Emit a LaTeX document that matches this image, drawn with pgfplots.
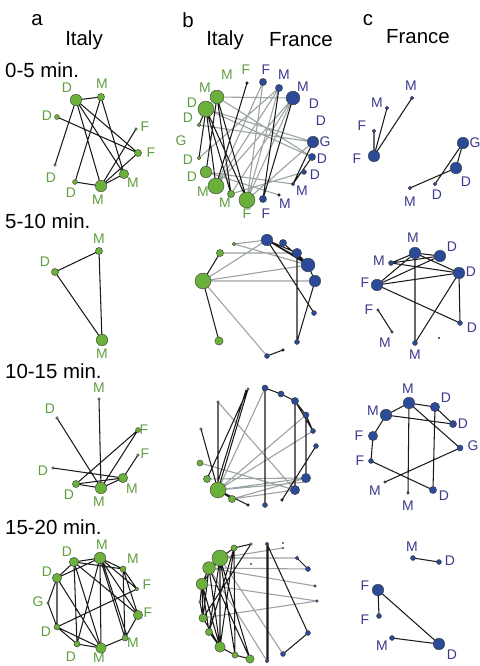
\documentclass[border=0pt]{standalone}
\usepackage{pgfplots}
\pgfplotsset{compat=1.18}
\usepackage{fontspec}
\setmainfont{Liberation Sans}
\definecolor{gfill}{HTML}{6AB03A}
\definecolor{glab}{HTML}{5E9E3E}
\definecolor{bfill}{HTML}{2B4A98}
\definecolor{blab}{HTML}{3A3A8C}
\definecolor{ndraw}{HTML}{3A3A3A}
\definecolor{gedgec}{HTML}{9CA3A3}
\definecolor{kedgec}{HTML}{1A1A1A}
\newcommand{\lab}{\fontsize{14}{14}\selectfont}
\newcommand{\hd}{\fontsize{20.5}{20.5}\selectfont}
\newcommand{\gl}[3]{\node[font=\lab,text=glab,inner sep=0pt] at (axis cs:#1,#2) {#3};}
\newcommand{\bl}[3]{\node[font=\lab,text=blab,inner sep=0pt] at (axis cs:#1,#2) {#3};}
\pgfplotsset{
 sizes/.style={visualization depends on={\thisrow{r}\as\nodesz},
   scatter/@pre marker code/.append style={/tikz/mark size={\nodesz*1.1+0.3}}},
 gnode/.style={scatter, only marks, mark=*, scatter/use mapped color={draw=ndraw,fill=gfill,line width=0.4pt}, sizes},
 bnode/.style={scatter, only marks, mark=*, scatter/use mapped color={draw=ndraw,fill=bfill,line width=0.4pt}, sizes},
 knode/.style={scatter, only marks, mark=*, scatter/use mapped color={draw=black,fill=kedgec,line width=0.2pt}, sizes},
 gedge/.style={gedgec, line width=1.1pt, no marks},
 kedge/.style={kedgec, line width=1.05pt, no marks},
}
\begin{document}
\begin{tikzpicture}
\begin{axis}[at={(0,0)}, anchor=south west, width=480bp, height=666bp, scale only axis,
 xmin=0, xmax=480, ymin=0, ymax=666, y dir=reverse, axis lines=none, clip=false,
 unbounded coords=jump]
% ---------- headings
\node[font=\hd] at (axis cs:37,20) {a};
\node[font=\hd] at (axis cs:84,40) {Italy};
\node[font=\hd] at (axis cs:188,20) {b};
\node[font=\hd] at (axis cs:225,40) {Italy};
\node[font=\hd] at (axis cs:301,40) {France};
\node[font=\hd] at (axis cs:368,20) {c};
\node[font=\hd] at (axis cs:418,37) {France};
\node[font=\hd,anchor=west,inner sep=0pt] at (axis cs:5,70) {0-5 min.};
\node[font=\hd,anchor=west,inner sep=0pt] at (axis cs:5,221) {5-10 min.};
\node[font=\hd,anchor=west,inner sep=0pt] at (axis cs:5,371) {10-15 min.};
\node[font=\hd,anchor=west,inner sep=0pt] at (axis cs:5,527) {15-20 min.};
% ================= GRAY EDGES
\addplot[gedge] coordinates {
(217,97)(293,98)(nan,nan) (206,109)(313,142)(nan,nan) (199,125)(313,142)(nan,nan)
(206,109)(312,157)(nan,nan) (206,172)(279,195)(nan,nan) (206,172)(293,184)(nan,nan)
(216,186)(293,98)(nan,nan) (216,186)(279,88)(nan,nan) (231,194)(293,98)(nan,nan)
(247,200)(293,98)(nan,nan) (247,200)(279,88)(nan,nan) (247,200)(313,142)(nan,nan)
(247,200)(263,82)(nan,nan) (199,158)(279,88)(nan,nan) (216,186)(263,82)(nan,nan)
(217,97)(312,157)(nan,nan) (231,194)(304,172)(nan,nan)
% row2 b
(234,244)(267,240)(nan,nan) (234,244)(308,265)(nan,nan) (203,281)(267,240)(nan,nan)
(203,281)(308,265)(nan,nan) (203,281)(315,281)(nan,nan) (203,281)(267,356)(nan,nan)
(220,253)(297,253)(nan,nan)
% row3 b
(265,388)(218,490)(nan,nan) (218,402)(295,490)(nan,nan) (200,463)(295,490)(nan,nan)
(218,490)(306,478)(nan,nan) (218,490)(306,482)(nan,nan) (218,490)(313,431)(nan,nan)
(218,490)(306,415)(nan,nan) (232,499)(295,490)(nan,nan) (207,479)(306,478)(nan,nan)
(232,499)(306,478)(nan,nan)
% row4 b
(220,558)(297,558)(nan,nan) (220,558)(283,548)(nan,nan) (209,568)(308,569)(nan,nan)
(209,568)(315,586)(nan,nan) (202,584)(317,601)(nan,nan) (203,618)(317,601)(nan,nan)
(220,558)(283,654)(nan,nan) (209,568)(267,661)(nan,nan)
};
% ================= BLACK EDGES
\addplot[kedge] coordinates {
% row1 a
(76,100)(101,97)(nan,nan) (76,100)(55,165)(nan,nan) (76,100)(138,153)(nan,nan)
(76,100)(124,174)(nan,nan) (76,100)(101,186)(nan,nan) (101,97)(124,174)(nan,nan)
(101,97)(75,182)(nan,nan) (57,117)(138,153)(nan,nan) (136,129)(101,186)(nan,nan)
(75,182)(101,186)(nan,nan) (101,186)(138,153)(nan,nan) (101,186)(124,174)(nan,nan)
% row1 b
(247,83)(216,186)(nan,nan) (217,97)(231,194)(nan,nan) (217,97)(247,200)(nan,nan)
(217,97)(206,172)(nan,nan) (206,109)(199,158)(nan,nan) (206,109)(231,194)(nan,nan)
(206,109)(247,200)(nan,nan) (199,125)(206,109)(nan,nan) (206,109)(216,186)(nan,nan)
(279,88)(263,199)(nan,nan) (293,98)(263,199)(nan,nan)
(313,142)(293,184)(nan,nan) (312,157)(293,184)(nan,nan)
% row1 c
(374,156)(374,131)(nan,nan) (374,156)(387,108)(nan,nan) (374,156)(412,98)(nan,nan)
(463,143)(456,168)(nan,nan) (463,143)(435,184)(nan,nan) (456,168)(410,188)(nan,nan)
% row2 a
(99,251)(55,272)(nan,nan) (55,272)(102,340)(nan,nan) (99,251)(102,340)(nan,nan)
% row2 b
(220,253)(203,281)(nan,nan) (203,281)(219,341)(nan,nan)
(267,240)(297,253)(nan,nan) (267,240)(308,265)(nan,nan) (267,240)(306,262)(nan,nan)
(283,243)(308,265)(nan,nan) (297,253)(308,265)(nan,nan) (267,240)(314,313)(nan,nan)
(315,281)(297,342)(nan,nan) (297,258)(297,342)(nan,nan) (267,356)(283,350)(nan,nan)
(308,265)(315,281)(nan,nan)
% row2 c
(415,253)(440,256)(nan,nan) (415,253)(391,263)(nan,nan) (415,253)(377,285)(nan,nan)
(415,253)(415,343)(nan,nan) (440,256)(377,285)(nan,nan) (440,256)(391,263)(nan,nan)
(391,263)(459,273)(nan,nan) (377,285)(459,273)(nan,nan) (377,285)(460,323)(nan,nan)
(459,273)(460,323)(nan,nan) (459,273)(415,343)(nan,nan) (378,310)(392,332)(nan,nan)
(415,253)(459,273)(nan,nan)
% row3 a
(99,399)(101,488)(nan,nan) (57,418)(101,488)(nan,nan) (138,430)(76,484)(nan,nan)
(138,430)(101,488)(nan,nan) (138,455)(123,478)(nan,nan) (53,468)(123,478)(nan,nan)
(76,484)(101,488)(nan,nan) (76,484)(123,478)(nan,nan) (101,488)(123,478)(nan,nan)
% row3 b
(218,490)(248,389)(nan,nan) (216,488)(246,390)(nan,nan) (207,479)(248,389)(nan,nan)
(218,490)(218,402)(nan,nan) (218,490)(201,429)(nan,nan) (218,490)(248,505)(nan,nan)
(218,490)(232,499)(nan,nan)
(265,388)(281,394)(nan,nan) (281,394)(295,401)(nan,nan) (295,401)(306,415)(nan,nan)
(306,415)(313,431)(nan,nan) (295,401)(295,490)(nan,nan) (306,415)(306,478)(nan,nan)
(316,446)(282,500)(nan,nan) (265,388)(265,505)(nan,nan) (295,401)(313,431)(nan,nan)
% row3 c
(409,403)(386,415)(nan,nan) (409,403)(435,407)(nan,nan) (409,403)(408,493)(nan,nan)
(409,403)(460,448)(nan,nan) (386,415)(453,424)(nan,nan) (435,407)(453,424)(nan,nan)
(435,407)(433,490)(nan,nan) (386,415)(373,436)(nan,nan) (373,436)(371,461)(nan,nan)
(371,461)(433,490)(nan,nan) (460,448)(385,482)(nan,nan)
% row4 a
(74,562)(100,558)(nan,nan) (74,562)(57,578)(nan,nan) (74,562)(123,569)(nan,nan)
(100,558)(123,569)(nan,nan) (100,558)(138,615)(nan,nan) (100,558)(125,638)(nan,nan)
(100,558)(101,648)(nan,nan) (100,558)(77,644)(nan,nan) (100,558)(57,578)(nan,nan)
(57,578)(48,603)(nan,nan) (48,603)(57,627)(nan,nan) (57,578)(57,627)(nan,nan)
(57,578)(101,648)(nan,nan) (74,562)(101,648)(nan,nan) (123,569)(137,589)(nan,nan)
(123,569)(125,638)(nan,nan) (137,589)(57,627)(nan,nan) (138,615)(125,638)(nan,nan)
(125,638)(101,648)(nan,nan) (57,627)(77,644)(nan,nan) (57,627)(101,648)(nan,nan)
(77,644)(101,648)(nan,nan) (74,562)(138,615)(nan,nan) (100,558)(137,589)(nan,nan)
(102,560)(127,636)(nan,nan) (123,569)(138,615)(nan,nan) (74,562)(77,644)(nan,nan)
% row4 b
(267,544)(267,661)(nan,nan) (268,544)(268,661)(nan,nan) (267,544)(308,633)(nan,nan)
(308,633)(283,654)(nan,nan) (297,558)(308,569)(nan,nan)
(234,548)(251,544)(nan,nan) (234,548)(235,655)(nan,nan) (220,558)(220,647)(nan,nan)
(220,558)(235,655)(nan,nan) (220,558)(250,659)(nan,nan) (220,558)(209,632)(nan,nan)
(209,568)(220,647)(nan,nan) (209,568)(250,659)(nan,nan) (202,584)(203,618)(nan,nan)
(202,584)(209,632)(nan,nan) (202,584)(220,647)(nan,nan) (209,568)(202,584)(nan,nan)
(203,618)(220,647)(nan,nan) (209,632)(220,647)(nan,nan) (220,647)(235,655)(nan,nan)
(235,655)(250,659)(nan,nan) (251,544)(203,618)(nan,nan) (220,558)(202,584)(nan,nan)
(209,568)(203,618)(nan,nan) (234,548)(209,632)(nan,nan) (202,584)(200,602)(nan,nan)
(200,602)(203,618)(nan,nan) (220,558)(234,548)(nan,nan) (234,548)(220,647)(nan,nan)
% row4 c
(413,558)(439,562)(nan,nan) (378,590)(379,616)(nan,nan) (378,590)(439,644)(nan,nan)
(392,638)(439,644)(nan,nan)
};
% ================= NODES
\addplot[gnode] table[row sep=\\] {x y r\\
76 100 5\\ 101 97 3\\ 57 117 2\\ 136 129 1\\ 138 153 3\\ 55 165 1\\ 75 182 2\\ 101 186 5\\ 124 174 4\\
217 97 6\\ 206 109 7\\ 199 125 1.5\\ 199 158 1.5\\ 206 172 5\\ 216 186 7\\ 231 194 3\\ 247 200 7\\
99 251 3\\ 55 272 3\\ 102 340 5\\
234 244 1.5\\ 220 253 3\\ 203 281 7\\ 219 341 3.5\\
99 399 1\\ 57 418 1\\ 138 430 2\\ 138 455 1\\ 53 468 1\\ 123 478 4\\ 76 484 3\\ 101 488 5\\
248 389 1\\ 218 402 1\\ 201 429 1\\ 200 463 2.5\\ 207 479 3\\ 218 490 7\\ 232 499 3\\
100 558 5\\ 74 562 4\\ 123 569 2.5\\ 57 578 4\\ 137 589 1.5\\ 48 603 1\\ 138 615 4\\ 57 627 2.5\\ 125 638 2.5\\ 77 644 2.5\\ 101 648 4.5\\
234 548 2.5\\ 220 558 7\\ 209 568 5.5\\ 202 584 5\\ 200 602 1\\ 203 618 3.5\\ 209 632 3\\ 220 647 4.5\\ 235 655 2.5\\ 250 659 3.5\\ 251 544 1\\
};
\addplot[bnode] table[row sep=\\] {x y r\\
263 82 3\\ 279 88 3\\ 293 98 6\\ 313 142 5\\ 312 157 3\\ 304 172 2\\ 293 184 1.5\\ 263 199 3\\
412 98 1.5\\ 387 108 1.5\\ 374 131 1.5\\ 374 156 5\\ 463 143 5\\ 456 168 5\\ 435 184 1.5\\ 410 188 1.5\\
267 240 5\\ 283 243 3\\ 297 253 4\\ 308 265 6\\ 315 281 5\\ 314 313 2\\ 297 342 2\\ 267 356 2\\
415 253 5\\ 440 256 5\\ 391 263 2\\ 459 273 5\\ 377 285 5\\ 378 310 1\\ 392 332 1\\ 460 323 2\\ 415 343 2\\
265 388 2.5\\ 281 394 2.5\\ 295 401 3\\ 306 415 2.5\\ 313 431 2\\ 316 446 2\\ 306 478 4\\ 295 490 4\\ 265 505 2\\
409 403 5\\ 435 407 4\\ 386 415 5\\ 453 424 3\\ 373 436 4\\ 460 448 2.5\\ 371 461 2\\ 385 482 1\\ 433 490 3\\ 408 493 1\\
267 544 1.5\\ 297 558 1.5\\ 308 569 2\\ 315 586 1\\ 317 601 1\\ 308 633 2\\ 283 654 2\\ 267 661 1.5\\
413 558 2\\ 439 562 2\\ 378 590 5\\ 379 616 2\\ 392 638 2\\ 439 644 5\\
};
\addplot[knode] table[row sep=\\] {x y r\\
247 83 1\\ 279 195 1\\ 283 350 1\\ 248 505 1\\ 282 500 1\\ 283 543 0.4\\ 283 548 0.4\\ 251 564 0.4\\ 439 338 0.3\\
};
% ================= LABELS
% row1 a
\gl{67}{88}{D}\gl{102}{84}{M}\gl{47}{116}{D}\gl{145}{127}{F}\gl{151}{153}{F}
\gl{51}{178}{D}\gl{71}{193}{D}\gl{98}{200}{M}\gl{133}{183}{M}
% row1 b
\gl{227}{75}{M}\gl{246}{70}{F}\gl{205}{88}{M}\gl{192}{103}{D}\gl{188}{118}{D}
\gl{181}{141}{G}\gl{188}{160}{D}\gl{192}{177}{D}\gl{203}{192}{M}\gl{225}{203}{M}\gl{247}{214}{F}
\bl{266}{70}{F}\bl{284}{75}{M}\bl{303}{87}{M}\bl{314}{104}{D}\bl{321}{121}{D}
\bl{325}{142}{G}\bl{322}{159}{D}\bl{315}{175}{D}\bl{302}{191}{M}\bl{285}{204}{M}\bl{266}{214}{F}
% row1 c
\bl{411}{86}{M}\bl{377}{103}{M}\bl{362}{126}{F}\bl{357}{159}{F}\bl{475}{143}{G}
\bl{466}{182}{D}\bl{437}{195}{D}\bl{410}{202}{M}
% row2 a
\gl{99}{239}{M}\gl{45}{262}{D}\gl{102}{354}{M}
% row2 c
\bl{413}{238}{M}\bl{452}{247}{D}\bl{379}{261}{M}\bl{471}{272}{D}\bl{365}{283}{F}
\bl{369}{310}{F}\bl{385}{343}{M}\bl{472}{328}{D}\bl{415}{355}{M}
% row3 a
\gl{99}{388}{M}\gl{50}{409}{D}\gl{144}{430}{F}\gl{145}{454}{F}\gl{43}{471}{D}
\gl{69}{495}{D}\gl{99}{502}{M}\gl{132}{489}{M}
% row3 c
\bl{408}{389}{M}\bl{446}{398}{D}\bl{373}{411}{M}\bl{463}{424}{D}\bl{359}{436}{F}
\bl{473}{446}{G}\bl{360}{461}{F}\bl{375}{491}{M}\bl{444}{496}{D}\bl{408}{506}{M}
% row4 a
\gl{102}{545}{M}\gl{67}{552}{D}\gl{133}{559}{M}\gl{47}{572}{D}\gl{147}{585}{F}
\gl{38}{602}{G}\gl{148}{613}{F}\gl{46}{632}{D}\gl{133}{643}{M}\gl{71}{657}{D}\gl{99}{658}{M}
% row4 c
\bl{412}{547}{M}\bl{450}{561}{D}\bl{365}{586}{F}\bl{365}{620}{F}\bl{382}{646}{M}\bl{452}{655}{D}
\end{axis}
\pgfresetboundingbox
\path (0,0) rectangle (480bp,666bp);
\end{tikzpicture}
\end{document}
